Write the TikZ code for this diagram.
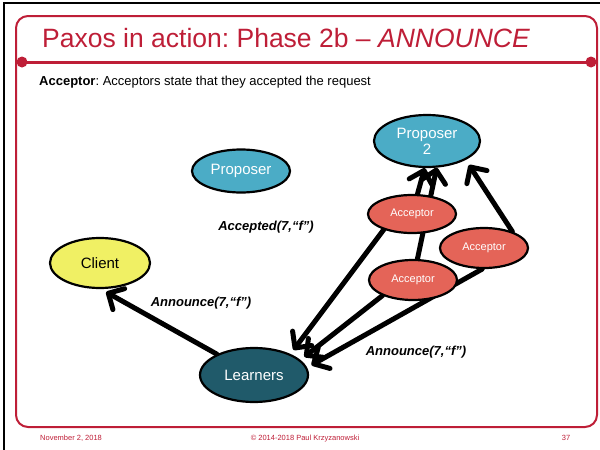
\documentclass[tikz,border=0pt]{standalone}
\usepackage{fontspec}
\setmainfont{Liberation Sans}
\usetikzlibrary{arrows.meta,backgrounds,shapes.geometric}
\definecolor{slidered}{RGB}{190,30,55}
\definecolor{propblue}{RGB}{75,172,198}
\definecolor{accred}{RGB}{228,100,88}
\definecolor{learnteal}{RGB}{32,90,106}
\definecolor{clientyellow}{RGB}{240,240,100}
\frenchspacing
\begin{document}
\begin{tikzpicture}[x=1pt,y=-1pt,
  ell/.style={ellipse, draw=black, line width=2.2pt, inner sep=0pt},
  bignode/.style={ell, text=white, font=\fontsize{15}{16}\selectfont},
  accnode/.style={ell, fill=accred, text=white, minimum width=88pt, font=\fontsize{11}{13}\selectfont},
  arr/.style={line width=5pt, line cap=round, line join=round, -{Straight Barb[length=12pt,width=24pt,line width=5pt,round]}},
  lab/.style={font=\bfseries\itshape\fontsize{13}{15}\selectfont, inner sep=0pt},
  foot/.style={text=slidered, font=\fontsize{7.5}{9}\selectfont, inner sep=0pt, anchor=base}]
\useasboundingbox (0,0) rectangle (600,450);
% slide border
\draw[black, line width=1.5pt] (4,450) -- (4,3) -- (600,3);
% frame
\draw[slidered, line width=2pt, rounded corners=12pt] (16,16) rectangle (597,427);
\draw[slidered, line width=3pt] (22,62) -- (591,62);
\fill[slidered] (22,62) circle (5.5pt);
\fill[slidered] (591,62) circle (5.5pt);
% title and subtitle
\node[anchor=base west, text=slidered, font=\fontsize{26.5}{30}\selectfont, inner sep=0pt] (title) at (42,47) {Paxos in action: Phase 2b – \textit{ANNOUNCE}};
\node[anchor=base west, font=\fontsize{13}{15}\selectfont, inner sep=0pt] (sub) at (39,85) {\textbf{Acceptor}: Acceptors state that they accepted the request};
% nodes
\node[bignode, fill=propblue, minimum width=98pt, minimum height=43pt] (p1) at (241,171) {Proposer};
\node[bignode, fill=propblue, minimum width=106pt, minimum height=52pt, align=center] (p2) at (427,141) {Proposer\\2};
\node[accnode, minimum height=38pt] (a1) at (412,214) {Acceptor};
\node[accnode, minimum height=40pt] (a2) at (484,248) {Acceptor};
\node[accnode, minimum height=40pt] (a3) at (413,280) {Acceptor};
\node[bignode, fill=clientyellow, text=black, minimum width=100pt, minimum height=50pt] (cl) at (100,263) {Client};
\node[bignode, fill=learnteal, minimum width=108pt, minimum height=54pt] (l) at (254,375) {Learners};
% labels
\node[lab] (acc) at (266,227) {Accepted(7,“f”)};
\node[lab] (ann1) at (201,303) {Announce(7,“f”)};
\node[lab] (ann2) at (416,352) {Announce(7,“f”)};
% arrows
\begin{scope}[on background layer]
\draw[arr] (a1) -- (p2.265);
\draw[arr] (a3) -- (p2.290);
\draw[arr, shorten >=6pt] (a2.30) -- (p2.334);
\draw[arr, shorten >=5pt] (a1.209) -- (l.30);
\draw[arr, shorten >=5pt] (a3.207) -- (l.18);
\draw[arr, shorten >=5pt] (a2.265) -- (l.8);
\draw[arr, shorten >=6pt] (l) -- (cl.272);
\end{scope}
% footer
\node[foot, anchor=base west] (date) at (40,440) {November 2, 2018};
\node[foot] (copy) at (305,440) {© 2014-2018 Paul Krzyzanowski};
\node[foot] (page) at (566,440) {37};
\end{tikzpicture}
\end{document}
